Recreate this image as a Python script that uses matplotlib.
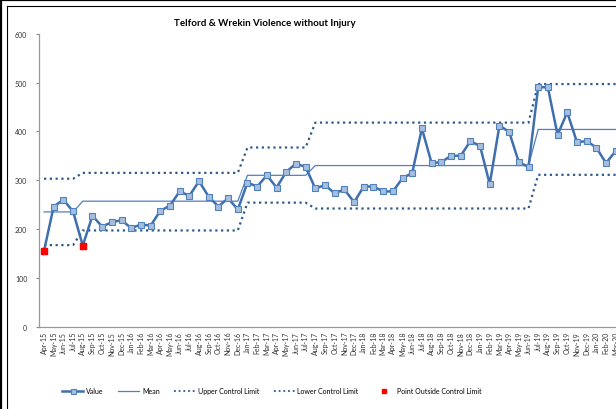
import numpy as np
import matplotlib
matplotlib.use('Agg')
import matplotlib.pyplot as plt
from matplotlib.lines import Line2D

plt.rcParams['font.family'] = ['Lato', 'DejaVu Sans']

months = ['Apr-15', 'May-15', 'Jun-15', 'Jul-15', 'Aug-15', 'Sep-15', 'Oct-15', 'Nov-15', 'Dec-15', 'Jan-16',
          'Feb-16', 'Mar-16', 'Apr-16', 'May-16', 'Jun-16', 'Jul-16', 'Aug-16', 'Sep-16', 'Oct-16', 'Nov-16',
          'Dec-16', 'Jan-17', 'Feb-17', 'Mar-17', 'Apr-17', 'May-17', 'Jun-17', 'Jul-17', 'Aug-17', 'Sep-17',
          'Oct-17', 'Nov-17', 'Dec-17', 'Jan-18', 'Feb-18', 'Mar-18', 'Apr-18', 'May-18', 'Jun-18', 'Jul-18',
          'Aug-18', 'Sep-18', 'Oct-18', 'Nov-18', 'Dec-18', 'Jan-19', 'Feb-19', 'Mar-19', 'Apr-19', 'May-19',
          'Jun-19', 'Jul-19', 'Aug-19', 'Sep-19', 'Oct-19', 'Nov-19', 'Dec-19', 'Jan-20', 'Feb-20', 'Mar-20']

values = [155, 246, 260, 236, 166, 227, 205, 214, 218, 202,
          209, 207, 237, 248, 277, 268, 298, 266, 246, 263,
          240, 295, 287, 310, 285, 317, 334, 327, 283, 290,
          273, 281, 255, 287, 287, 277, 277, 304, 315, 406,
          335, 337, 350, 350, 380, 370, 292, 412, 399, 337,
          327, 491, 490, 393, 439, 378, 380, 367, 335, 360]

# control chart segments (number of months in each, and the levels)
seg_len = [4, 17, 7, 23, 9]
seg_mean = [235, 257, 310, 330, 404]
seg_ucl = [303, 315, 367, 418, 497]
seg_lcl = [167, 197, 254, 242, 311]

mean = np.repeat(seg_mean, seg_len)
ucl = np.repeat(seg_ucl, seg_len)
lcl = np.repeat(seg_lcl, seg_len)
vals = np.array(values)
x = np.arange(len(months))
out = (vals < lcl) | (vals > ucl)

line_col = '#3F6FAE'
mean_col = '#4F81BD'
lim_col = '#2E5A8E'

fig = plt.figure(figsize=(6.16, 4.10), dpi=100)
W, H = 616, 410
step = 9.69
left_px = 44 - 0.5 * step
ax = fig.add_axes([left_px / W, (H - 327.6) / H, (61 * step) / W, 292.8 / H])

ax.plot(x, ucl, color=lim_col, lw=1.6, ls=(0, (1, 1.6)))
ax.plot(x, lcl, color=lim_col, lw=1.6, ls=(0, (1, 1.6)))
ax.plot(x, mean, color=mean_col, lw=0.9)
ax.plot(x, vals, color=line_col, lw=1.8, marker='s', ms=3.8,
        mfc='#A7BFDE', mec='#4F81BD', mew=0.8)
ax.plot(x[out], vals[out], ls='none', marker='s', ms=3.8, mfc='#FF0000', mec='#FF0000')

ax.set_xlim(-0.5, 60.5)
ax.set_ylim(0, 600)
ax.set_yticks(range(0, 601, 100))
ax.set_xticks(x)
ax.set_xticklabels(months, rotation=90, fontsize=5)
ax.tick_params(axis='y', labelsize=5, length=2.5, color='#888888', labelcolor='#333333', pad=6)
ax.tick_params(axis='x', length=0, labelcolor='#333333', pad=3)
for s in ['top', 'right']:
    ax.spines[s].set_visible(False)
for s in ['left', 'bottom']:
    ax.spines[s].set_color('#999999')
    ax.spines[s].set_linewidth(0.9)

fig.text(265 / W, 1 - 23 / H, 'Telford & Wrekin Violence without Injury',
         ha='center', va='center', fontsize=7, fontweight='bold')

handles = [
    Line2D([], [], color=line_col, lw=1.8, marker='s', ms=3.6, mfc='#A7BFDE', mec='#4F81BD', mew=0.8),
    Line2D([], [], color=mean_col, lw=0.9),
    Line2D([], [], color=lim_col, lw=1.3, ls=(0, (1, 1.6))),
    Line2D([], [], color=lim_col, lw=1.3, ls=(0, (1, 1.6))),
    Line2D([], [], ls='none', marker='s', ms=2.5, mfc='#FF0000', mec='#FF0000'),
]
labels = ['Value', 'Mean', 'Upper Control Limit', 'Lower Control Limit', 'Point Outside Control Limit']
fig.legend(handles, labels, loc='center', bbox_to_anchor=(272 / W, 1 - 392 / H), ncol=5,
           fontsize=5, frameon=False, handlelength=3, handletextpad=0.4, columnspacing=2.1)

# chart area borders
fig.add_artist(Line2D([0, 1], [1 - 1 / H, 1 - 1 / H], color='black', lw=1.6))
fig.add_artist(Line2D([1 / W, 1 / W], [0, 1], color='black', lw=1.6))
fig.add_artist(Line2D([7 / W, 1], [1 - 7 / H, 1 - 7 / H], color='black', lw=0.8))
fig.add_artist(Line2D([7 / W, 7 / W], [0, 1 - 7 / H], color='black', lw=0.8))

fig.savefig('out.png', dpi=100)
